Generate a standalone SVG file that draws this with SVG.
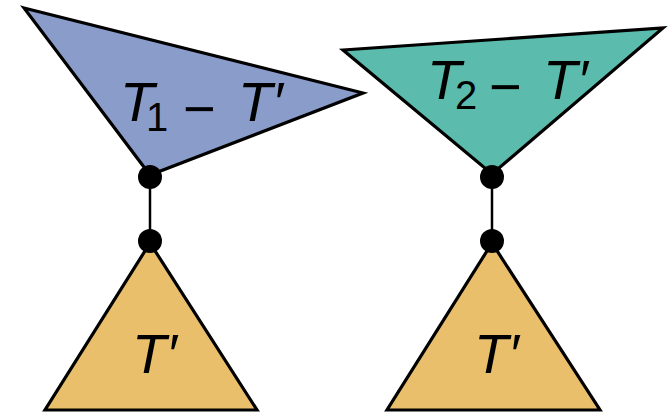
<svg xmlns="http://www.w3.org/2000/svg" width="669" height="414" viewBox="0 0 669 414">
<style>
.tri{stroke:#000;stroke-width:3.2;stroke-linejoin:miter}
.blue{fill:#8a9cca}
.teal{fill:#5bbcae}
.gold{fill:#e9bf6b}
.lbl{font-family:"Liberation Sans",Arial,sans-serif;font-size:56px;fill:#000}
.it{font-style:italic}
.sub{font-size:40px;font-style:normal}
.dot{fill:#000}
</style>
<rect width="669" height="414" fill="#fff"/>
<g id="connectors" stroke="#000" stroke-width="2.5">
<line x1="150" y1="177" x2="150" y2="241"/>
<line x1="492" y1="177" x2="492" y2="241"/>
</g>
<g id="T1-minus-Tp">
<polygon class="tri blue" points="24,8 363,93 150,175"/>
<text class="lbl" y="121"><tspan class="it" x="120">T</tspan><tspan class="sub" x="146" y="131">1</tspan><tspan x="183" y="128">−</tspan><tspan class="it" x="238" y="121">T′</tspan></text>
</g>
<g id="T2-minus-Tp">
<polygon class="tri teal" points="343,50 663,28 492,174"/>
<text class="lbl" y="99"><tspan class="it" x="427">T</tspan><tspan class="sub" x="455" y="109">2</tspan><tspan x="489" y="106">−</tspan><tspan class="it" x="543" y="99">T′</tspan></text>
</g>
<g id="Tp-left">
<polygon class="tri gold" points="150,243 45,410 257,410"/>
<text class="lbl it" x="132" y="373">T′</text>
</g>
<g id="Tp-right">
<polygon class="tri gold" points="492,243 387,410 600,410"/>
<text class="lbl it" x="474" y="373">T′</text>
</g>
<g id="dots">
<circle class="dot" cx="150" cy="177" r="12"/>
<circle class="dot" cx="150" cy="241" r="12"/>
<circle class="dot" cx="492" cy="177" r="12"/>
<circle class="dot" cx="492" cy="241" r="12"/>
</g>
</svg>
